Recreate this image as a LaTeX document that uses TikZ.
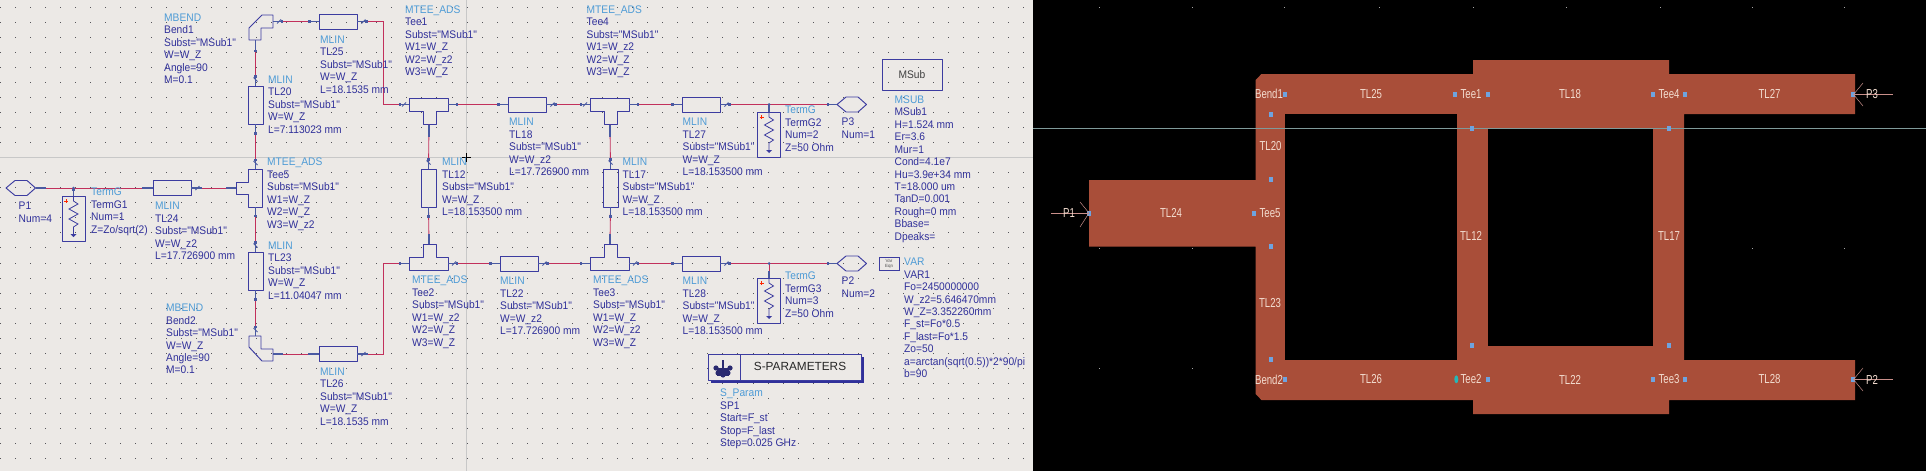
\documentclass[tikz,border=0pt]{standalone}
\usepackage{fontspec}
\setmainfont{Liberation Sans}
\newfontfamily\partfont[FakeStretch=0.93]{Liberation Sans}
\newfontfamily\layfont[FakeStretch=0.74]{Liberation Sans}
\definecolor{schembg}{HTML}{ECE9E6}
\definecolor{griddot}{HTML}{55555A}
\definecolor{guide}{HTML}{C8C8C8}
\definecolor{partline}{HTML}{3C3CA0}
\definecolor{wirered}{HTML}{C2305C}
\definecolor{partdark}{HTML}{30309A}
\definecolor{partblue}{HTML}{4D9BD6}
\definecolor{stubblue}{HTML}{4A5AA2}
\definecolor{trace}{HTML}{A94E39}
\definecolor{portblue}{HTML}{6EA3E0}
\definecolor{laytext}{HTML}{F3DDD0}
\definecolor{portline}{HTML}{C98F8A}
\definecolor{layguide}{HTML}{7F9A9A}
\tikzset{
    part/.style={draw=partline,line width=.95pt,line join=round},
    hline/.style={part,minimum width=38pt,minimum height=15pt,inner sep=0pt},
    vline/.style={part,minimum width=15pt,minimum height=38pt,inner sep=0pt},
    wire/.style={draw=wirered,line width=.85pt},
    stub/.style={draw=stubblue,line width=1.2pt},
    parttxt/.style={anchor=north west,align=left,inner sep=0pt,text=partdark,font=\partfont\fontsize{11}{12.44}\selectfont},
    laytxt/.style={inner sep=0pt,text=laytext,font=\layfont\fontsize{13}{14}\selectfont},
}
\newcommand{\ptype}[1]{\textcolor{partblue}{#1}}
\begin{document}
\begin{tikzpicture}[x=1pt,y=-1pt]
    \useasboundingbox (0,0) rectangle (1926,471);
    \fill[schembg] (0,0) rectangle (1033,471);
    \fill[black] (1033,0) rectangle (1926,471);
    \foreach \i in {0,...,68}
    {
        \foreach \j in {0,...,30}
        {
            \fill[griddot] (\i*15.05,7+\j*15.03) rectangle ++(1,1);
        }
    }
    \draw[guide] (0,157) -- (1033,157);
    \draw[guide] (466.5,0) -- (466.5,471);
    \draw[black] (462,157) -- (471,157);
    \draw[black] (466.5,153) -- (466.5,162);
    % lines
    \foreach \nm/\x/\y in {tl25/338/21.5,tl18/527/104.5,tl27/701/104.5,tl24/172/188,tl26/338/354,tl22/519/263.5,tl28/701/263.5}
    {
        \node[hline] (\nm) at (\x,\y) {};
    }
    \foreach \nm/\x/\y in {tl20/255.5/105,tl12/428.5/188,tl17/610.5/188,tl23/255.5/271}
    {
        \node[vline] (\nm) at (\x,\y) {};
    }
    % tees
    \foreach \nm/\x/\y in {tee1/409/98.5,tee4/590/98.5}
    {
        \draw[part] (\x,\y) -- ++(39,0) -- ++(0,13) -- ++(-12,0) -- ++(0,13) -- ++(-13,0) -- ++(0,-13) -- ++(-14,0) -- cycle;
        \coordinate (\nm-l) at (\x,\y+6);
        \coordinate (\nm-r) at (\x+39,\y+6);
        \coordinate (\nm-s) at (\x+20,\y+26);
    }
    \foreach \nm/\x/\y in {tee2/409/257,tee3/590/257}
    {
        \draw[part] (\x,\y) -- ++(14,0) -- ++(0,-13) -- ++(13,0) -- ++(0,13) -- ++(12,0) -- ++(0,13) -- ++(-39,0) -- cycle;
        \coordinate (\nm-l) at (\x,\y+6.5);
        \coordinate (\nm-r) at (\x+39,\y+6.5);
        \coordinate (\nm-s) at (\x+20,\y-13);
    }
    \draw[part] (248,169) -- (262.5,169) -- (262.5,207) -- (248,207) -- (248,194) -- (236,194) -- (236,182) -- (248,182) -- cycle;
    \coordinate (tee5-t) at (255.5,169);
    \coordinate (tee5-b) at (255.5,207);
    \coordinate (tee5-l) at (236,188);
    % bends
    \draw[part] (262,15) -- (273,15) -- (273,28) -- (261,28) -- (261,40) -- (249,40) -- (249,28) -- cycle;
    \coordinate (bend1-r) at (273,21.5);
    \coordinate (bend1-b) at (255.5,40);
    \draw[part] (261,336) -- (261,349) -- (273,349) -- (273,361) -- (262,361) -- (249,347) -- (249,336) -- cycle;
    \coordinate (bend2-r) at (273,354);
    \coordinate (bend2-t) at (255.5,336);
    % ports
    \foreach \nm/\x/\y in {p1/6/188,p2/837/263.5,p3/837/104.5}
    {
        \draw[part] (\x,\y) -- ++(9,-7.5) -- ++(12,0) -- ++(8.5,7.5) -- ++(-8.5,7.5) -- ++(-12,0) -- cycle;
        \coordinate (\nm-l) at (\x,\y);
        \coordinate (\nm-r) at (\x+29.5,\y);
    }
    % terminations
    \foreach \nm/\x/\y in {termg1/62/196,termg2/757.5/112,termg3/757.5/278}
    {
        \draw[part] (\x,\y) rectangle ++(23,45);
        \coordinate (\nm-t) at (\x+11.5,\y);
        \draw[partline,line width=.8pt] (\x+11.5,\y) -- ++(0,5) -- ++(4.5,3) -- ++(-9,5) -- ++(9,5) -- ++(-9,5) -- ++(9,5) -- ++(-4.5,3) -- ++(0,7);
        \fill[partline] (\x+8.5,\y+38) -- ++(6,0) -- ++(-3,3) -- cycle;
        \draw[red!70!orange,line width=.6pt] (\x+2,\y+5) -- ++(4,0) (\x+4,\y+3) -- ++(0,4);
    }
    % wires
    \foreach \a/\b in {bend1-r/tl25.west,tee1-r/tl18.west,tl18.east/tee4-l,tee4-r/tl27.west,tl27.east/p3-l,p1-r/tl24.west,tl24.east/tee5-l,bend1-b/tl20.north,tl20.south/tee5-t,tee5-b/tl23.north,tl23.south/bend2-t,tee1-s/tl12.north,tl12.south/tee2-s,tee4-s/tl17.north,tl17.south/tee3-s,bend2-r/tl26.west,tee2-r/tl22.west,tl22.east/tee3-l,tee3-r/tl28.west,tl28.east/p2-l}
    {
        \draw[wire] (\a) -- (\b);
    }
    \draw[wire] (tl25.east) -- ++(26,0) |- (tee1-l);
    \draw[wire] (tl26.east) -- ++(26,0) |- (tee2-l);
    \foreach \a/\b in {termg1-t/p1-r,termg2-t/tl27.east,termg3-t/tl28.east}
    {
        \draw[wire] (\a) -- (\a |- \b);
        \fill[stubblue] (\a |- \b) circle (1.5);
    }
    % wire ends, blue with a square
    \foreach \a/\dx/\dy in {bend1-r/9/0,tl25.west/-9/0,tl18.west/-9/0,tl18.east/9/0,tee4-l/-9/0,tee1-r/9/0,tee4-r/9/0,tl27.west/-9/0,tl27.east/9/0,p3-l/-9/0,p1-r/9/0,tl24.west/-9/0,tl24.east/9/0,tee5-l/-9/0,bend1-b/0/11,tl20.north/0/-9,tl20.south/0/9,tee5-t/0/-9,tee5-b/0/9,tl23.north/0/-9,tl23.south/0/9,bend2-t/0/-9,tee1-s/0/11,tl12.north/0/-9,tl12.south/0/9,tee2-s/0/-9,tee4-s/0/11,tl17.north/0/-9,tl17.south/0/9,tee3-s/0/-9,bend2-r/9/0,tl26.west/-9/0,tl26.east/9/0,tl25.east/9/0,tee1-l/-9/0,tee2-l/-9/0,tee2-r/9/0,tl22.west/-9/0,tl22.east/9/0,tee3-l/-9/0,tee3-r/9/0,tl28.west/-9/0,tl28.east/9/0,p2-l/-9/0,termg1-t/0/-6,termg2-t/0/-6,termg3-t/0/-6}
    {
        \draw[stub] (\a) -- ++(\dx,\dy) coordinate (endpt);
        \fill[stubblue] ([shift={(-1.4,-1.4)}]endpt) rectangle ++(2.8,2.8);
    }
    % small ticks on some of the ends
    \foreach \a/\dx/\dy in {bend1-r/6/0,tl25.east/6/0,tl18.east/6/0,tee1-l/-5/0,tee4-l/-5/0,tl27.east/6/0,tl24.east/6/0,tl26.east/6/0,tl22.east/6/0,tee2-r/6/0,tee3-r/6/0,tl28.east/6/0}
    {
        \draw[stubblue,line width=.8pt] ([shift={(\dx-2,\dy+2)}]\a) -- ([shift={(\dx+2,\dy-2)}]\a);
    }
    \foreach \a/\dx/\dy in {tl20.north/0/-6,tl23.north/0/-6,tl12.north/0/-6,tl17.north/0/-6,tee5-t/0/-6,bend2-t/0/-6}
    {
        \draw[stubblue,line width=.8pt] ([shift={(\dx-2,\dy-2)}]\a) -- ([shift={(\dx+2,\dy+2)}]\a);
    }
    % boxes
    \node[part,minimum width=60pt,minimum height=31pt,inner sep=0pt,font=\partfont\fontsize{11}{12}\selectfont,text=black!75] (msubbox) at (912,74.5) {MSub};
    \fill[partdark] (710.5,356.5) rectangle (864,382.5);
    \node[part,fill=schembg,minimum width=153pt,minimum height=26pt,inner sep=0pt] (spbox) at (784.5,367) {};
    \draw[part] (740,354) -- (740,380);
    \node[inner sep=0pt,font=\fontsize{11.8}{12}\selectfont,text=black!85] (sptxt) at (800,366) {S-PARAMETERS};
    \foreach \a in {0,45,...,180}
    {
        \fill[partline!70!black] (723,368) ++(\a:7) circle (2.6);
    }
    \fill[partline!70!black] (717,368) rectangle (729,376);
    \fill[schembg] (723,363) circle (3);
    \fill[partline!70!black] (722,360) rectangle (724,368);
    \fill[partdark] (881,259.5) rectangle (900,271);
    \node[draw=partline,fill=schembg,minimum width=20pt,minimum height=12.5pt,inner sep=0pt,align=center,font=\fontsize{4.5}{5}\selectfont,text=black!70] (varbox) at (889,263.5) {Var\\Eqn};
    % labels
    \node[parttxt] (lbend1) at (164,13.5) {\ptype{MBEND}\\Bend1\\Subst="MSub1"\\W=W\_Z\\Angle=90\\M=0.1};
    \node[parttxt] (ltl25) at (320,35.5) {\ptype{MLIN}\\TL25\\Subst="MSub1"\\W=W\_Z\\L=18.1535 mm};
    \node[parttxt] (ltl20) at (268,75.5) {\ptype{MLIN}\\TL20\\Subst="MSub1"\\W=W\_Z\\L=7.113023 mm};
    \node[parttxt] (ltee1) at (405,5.5) {\ptype{MTEE\_ADS}\\Tee1\\Subst="MSub1"\\W1=W\_Z\\W2=W\_z2\\W3=W\_Z};
    \node[parttxt] (ltee4) at (586.5,5.5) {\ptype{MTEE\_ADS}\\Tee4\\Subst="MSub1"\\W1=W\_z2\\W2=W\_Z\\W3=W\_Z};
    \node[parttxt] (ltee5) at (267,158) {\ptype{MTEE\_ADS}\\Tee5\\Subst="MSub1"\\W1=W\_Z\\W2=W\_Z\\W3=W\_z2};
    \node[parttxt] (lp1) at (18.5,202) {P1\\Num=4};
    \node[parttxt] (ltermg1) at (91,188) {\ptype{TermG}\\TermG1\\Num=1\\Z=Zo/sqrt(2)};
    \node[parttxt] (ltl24) at (155,202) {\ptype{MLIN}\\TL24\\Subst="MSub1"\\W=W\_z2\\L=17.726900 mm};
    \node[parttxt] (ltl12) at (442,158) {\ptype{MLIN}\\TL12\\Subst="MSub1"\\W=W\_Z\\L=18.153500 mm};
    \node[parttxt] (ltl18) at (509,118) {\ptype{MLIN}\\TL18\\Subst="MSub1"\\W=W\_z2\\L=17.726900 mm};
    \node[parttxt] (ltl27) at (682.5,118) {\ptype{MLIN}\\TL27\\Subst="MSub1"\\W=W\_Z\\L=18.153500 mm};
    \node[parttxt] (ltl17) at (622.5,158) {\ptype{MLIN}\\TL17\\Subst="MSub1"\\W=W\_Z\\L=18.153500 mm};
    \node[parttxt] (ltermg2) at (785,106) {\ptype{TermG}\\TermG2\\Num=2\\Z=50 Ohm};
    \node[parttxt] (lp3) at (841.5,118) {P3\\Num=1};
    \node[parttxt] (lmsub) at (894.5,95.5) {\ptype{MSUB}\\MSub1\\H=1.524 mm\\Er=3.6\\Mur=1\\Cond=4.1e7\\Hu=3.9e+34 mm\\T=18.000 um\\TanD=0.001\\Rough=0 mm\\Bbase=\\Dpeaks=};
    \node[parttxt] (ltl23) at (268,241.5) {\ptype{MLIN}\\TL23\\Subst="MSub1"\\W=W\_Z\\L=11.04047 mm};
    \node[parttxt] (lbend2) at (166,304) {\ptype{MBEND}\\Bend2\\Subst="MSub1"\\W=W\_Z\\Angle=90\\M=0.1};
    \node[parttxt] (ltl26) at (320,367.5) {\ptype{MLIN}\\TL26\\Subst="MSub1"\\W=W\_Z\\L=18.1535 mm};
    \node[parttxt] (ltee2) at (412,276) {\ptype{MTEE\_ADS}\\Tee2\\Subst="MSub1"\\W1=W\_z2\\W2=W\_Z\\W3=W\_Z};
    \node[parttxt] (ltl22) at (500,277) {\ptype{MLIN}\\TL22\\Subst="MSub1"\\W=W\_z2\\L=17.726900 mm};
    \node[parttxt] (ltee3) at (593,276) {\ptype{MTEE\_ADS}\\Tee3\\Subst="MSub1"\\W1=W\_Z\\W2=W\_z2\\W3=W\_Z};
    \node[parttxt] (ltl28) at (682.5,277) {\ptype{MLIN}\\TL28\\Subst="MSub1"\\W=W\_Z\\L=18.153500 mm};
    \node[parttxt] (ltermg3) at (785,272) {\ptype{TermG}\\TermG3\\Num=3\\Z=50 Ohm};
    \node[parttxt] (lp2) at (841.5,277) {P2\\Num=2};
    \node[parttxt] (lvar) at (904,258) {\ptype{VAR}\\VAR1\\Fo=2450000000\\W\_z2=5.646470mm\\W\_Z=3.352260mm\\F\_st=Fo*0.5\\F\_last=Fo*1.5\\Zo=50\\a=arctan(sqrt(0.5))*2*90/pi\\b=90};
    \node[parttxt] (lsparam) at (720,389) {\ptype{S\_Param}\\SP1\\Start=F\_st\\Stop=F\_last\\Step=0.025 GHz};
    % layout
    \foreach \x in {1098.6,1191.7,1284.3,1378.6,1472.9,1566,1659.7,1751.7,1844.3}
    {
        \foreach \y in {7,128,248,368}
        {
            \fill[gray!70] (\x,\y) rectangle ++(1,1);
        }
    }
    \fill[trace] (1261.4,74) -- (1473,74) -- (1473,60) -- (1669,60) -- (1669,74) -- (1855,74) -- (1855,114) -- (1684,114) -- (1684,360) -- (1855,360) -- (1855,400) -- (1669,400) -- (1669,414) -- (1473,414) -- (1473,400) -- (1261.4,400) -- (1255.7,394) -- (1255.7,246.7) -- (1089,246.7) -- (1089,180) -- (1255.7,180) -- (1255.7,80) -- cycle;
    \foreach \x/\y/\w/\h in {1285.4/114/171.6/246,1488/128/165/218}
    {
        \fill[black] (\x,\y) rectangle ++(\w,\h);
    }
    \draw[layguide,line width=.7pt] (1033,128) -- (1926,128);
    \foreach \x/\y in {1285.4/94.3,1455.1/94.3,1487.7/94.3,1652.9/94.3,1685/94.3,1853.4/94.3,1270.6/114.3,1472.3/128.3,1668.9/128.3,1270.6/179.3,1254/213.3,1089.4/213.3,1270.6/246.3,1270.6/359.3,1285.4/379.3,1487.7/379.3,1652.9/379.3,1685/379.3,1853.4/379.3,1472.3/345.3,1668.9/345.3}
    {
        \fill[portblue] (\x-2,\y-2.6) rectangle ++(4,5.2);
    }
    \fill[cyan!60!green!85!white] (1456.3,379.3) ellipse (2 and 4);
    % port pins of the layout
    \coordinate (pin1) at (1089,213);
    \coordinate (pin2) at (1853.5,379.5);
    \coordinate (pin3) at (1853.5,94.5);
    \draw[portline] (pin1) -- ++(-38,0);
    \draw[portline,line width=.5pt] (pin1) -- ++(-9,-11) (pin1) -- ++(-9,14);
    \foreach \p in {pin2,pin3}
    {
        \draw[portline] (\p) -- ++(39.5,0);
        \draw[portline,line width=.5pt] (\p) -- ++(9.5,-11.5) (\p) -- ++(9.5,11.5);
    }
    \foreach \nm/\x/\y/\txt in {bend1/1269/94/Bend1,tl25/1371/94/TL25,tee1/1471/94/Tee1,tl18/1570/94/TL18,tee4/1669/94/Tee4,tl27/1769.5/94/TL27,p3/1872/94/P3,tl20/1270.5/146.5/TL20,tee5/1270/213/Tee5,tl24/1171/213/TL24,p1/1069/213/P1,tl12/1471/236/TL12,tl17/1669/236/TL17,tl23/1270/303/TL23,bend2/1269/379.5/Bend2,tl26/1371/379.5/TL26,tee2/1471/379.5/Tee2,tl22/1570/379.5/TL22,tee3/1669/379.5/Tee3,tl28/1769.5/379.5/TL28,p2/1872/379.5/P2}
    {
        \node[laytxt] (lay\nm) at (\x,\y) {\txt};
    }
\end{tikzpicture}
\end{document}
